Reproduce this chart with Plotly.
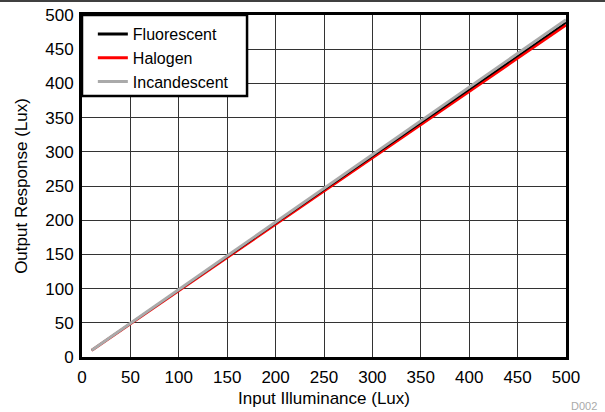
import plotly.graph_objects as go

x_vals = [10, 50, 100, 150, 200, 250, 300, 350, 400, 450, 500]
fluorescent = [9.8, 49.0, 98.0, 147.0, 196.0, 245.0, 294.0, 343.0, 392.0, 440.5, 489.0]
halogen = [9.7, 48.6, 97.2, 145.8, 194.4, 243.0, 291.6, 340.2, 388.8, 437.0, 485.5]
incandescent = [10.0, 49.4, 98.8, 148.2, 197.6, 247.0, 296.4, 345.8, 395.0, 444.0, 493.0]

tick_vals = list(range(0, 501, 50))

fig = go.Figure()
fig.add_trace(go.Scatter(x=x_vals, y=halogen, name="Halogen", mode="lines",
                         line=dict(color="#ff0000", width=3), showlegend=False))
fig.add_trace(go.Scatter(x=x_vals, y=fluorescent, name="Fluorescent", mode="lines",
                         line=dict(color="black", width=2), showlegend=False))
fig.add_trace(go.Scatter(x=x_vals, y=incandescent, name="Incandescent", mode="lines",
                         line=dict(color="#aaaaaa", width=3), showlegend=False))
# legend entries in reference order
fig.add_trace(go.Scatter(x=[None], y=[None], name="Fluorescent", mode="lines",
                         line=dict(color="black", width=3)))
fig.add_trace(go.Scatter(x=[None], y=[None], name="Halogen", mode="lines",
                         line=dict(color="#ff0000", width=3)))
fig.add_trace(go.Scatter(x=[None], y=[None], name="Incandescent", mode="lines",
                         line=dict(color="#aaaaaa", width=3)))

axis_common = dict(
    range=[0, 500], tickvals=tick_vals, showgrid=True, gridcolor="#333333", gridwidth=1,
    zeroline=False, showline=True, linecolor="black", linewidth=3, mirror=True,
    ticks="", tickfont=dict(size=17, color="black"), automargin=False,
)
fig.update_xaxes(**axis_common, ticklabelstandoff=3,
                 title=dict(text="Input Illuminance (Lux)", font=dict(size=17, color="black"), standoff=6))
fig.update_yaxes(**axis_common, ticklabelstandoff=2,
                 title=dict(text="Output Response (Lux)", font=dict(size=17, color="black"), standoff=14))

fig.update_layout(
    width=605, height=412,
    margin=dict(l=82, r=39, t=15, b=55),
    plot_bgcolor="white", paper_bgcolor="white",
    font=dict(family="Liberation Sans, Arial, sans-serif", size=17, color="black"),
    legend=dict(x=0.0224, y=0.994, xanchor="left", yanchor="top", bgcolor="rgba(0,0,0,0)",
                borderwidth=0, font=dict(size=16), tracegroupgap=0),
    shapes=[
        dict(type="line", xref="paper", yref="paper", x0=-0.2, x1=1.1,
             y0=1.0409, y1=1.0409, line=dict(color="black", width=1.5)),
        dict(type="rect", xref="paper", yref="paper", x0=0, x1=0.341, y0=0.763, y1=1,
             fillcolor="white", line=dict(color="black", width=2.5), layer="above"),
    ],
    annotations=[dict(text="D002", xref="paper", yref="paper", x=1.068, y=-0.143,
                      xanchor="right", yanchor="middle", showarrow=False,
                      font=dict(size=11, color="#aaaaaa"))],
)

fig.write_html("out.html", config={"displayModeBar": False},
               post_script="document.body.style.margin='0';document.body.style.overflow='hidden';")
